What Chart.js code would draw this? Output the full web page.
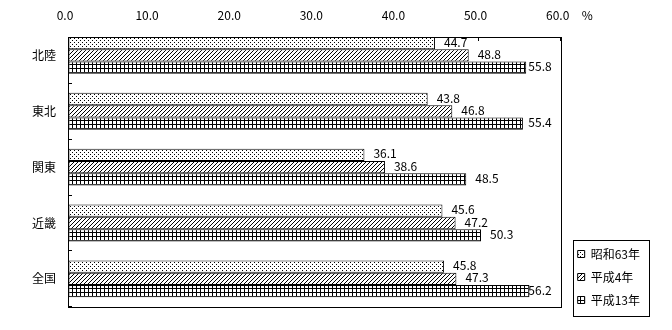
<!DOCTYPE html>
<html>
<head>
<meta charset="utf-8">
<script src="https://cdn.jsdelivr.net/npm/chart.js@4/dist/chart.umd.min.js"></script>
<style>
  html, body { margin: 0; padding: 0; background: #fff; }
  #wrap { width: 672px; height: 330px; }
</style>
</head>
<body>
<div id="wrap"><canvas id="chart" width="672" height="330"></canvas></div>
<script>
// Regions (top to bottom) and the three survey years
const regions = ['北陸', '東北', '関東', '近畿', '全国'];
const seriesNames = ['昭和63年', '平成4年', '平成13年'];
const valuesS63 = [44.7, 43.8, 36.1, 45.6, 45.8];
const valuesH4 = [48.8, 46.8, 38.6, 47.2, 47.3];
const valuesH13 = [55.8, 55.4, 48.5, 50.3, 56.2];
const xTicks = [0, 10, 20, 30, 40, 50, 60];
const unitLabel = '%';

const FONT = '"Noto Sans CJK JP", "Noto Sans", sans-serif';

// Monochrome fill patterns: dots, diagonal hatching, square grid
function makePattern(kind) {
  const c = document.createElement('canvas');
  c.width = 4; c.height = 4;
  const g = c.getContext('2d');
  g.fillStyle = '#fff';
  g.fillRect(0, 0, 4, 4);
  g.fillStyle = '#000';
  if (kind === 'dots') {
    g.fillRect(0, 0, 1, 1);
    g.fillRect(2, 2, 1, 1);
  } else if (kind === 'hatch') {
    for (let i = 0; i < 4; i++) g.fillRect(3 - i, i, 1, 1);
  } else {
    g.fillRect(0, 0, 4, 1);
    g.fillRect(0, 0, 1, 4);
  }
  return c.getContext('2d').createPattern(c, 'repeat');
}

const fills = [makePattern('dots'), makePattern('hatch'), makePattern('grid')];
const seriesValues = [valuesS63, valuesH4, valuesH13];

const datasets = seriesValues.map((vals, k) => ({
  label: seriesNames[k],
  data: vals.map((v, i) => ({ x: v, y: i })),
  backgroundColor: fills[k],
  borderColor: '#000',
  borderWidth: 1,
  borderSkipped: false,
  categoryPercentage: 0.66,
  barPercentage: 1,
  xAxisID: 'x',
  yAxisID: 'y'
}));

// Value labels to the right of each bar
const valueLabels = {
  id: 'valueLabels',
  afterDatasetsDraw(chart) {
    const { ctx, chartArea } = chart;
    ctx.save();
    ctx.font = '12px ' + FONT;
    ctx.fillStyle = '#000';
    ctx.textBaseline = 'middle';
    ctx.textAlign = 'left';
    chart.data.datasets.forEach((ds, di) => {
      chart.getDatasetMeta(di).data.forEach((bar, i) => {
        const txt = ds.data[i].x.toFixed(1);
        const w = ctx.measureText(txt).width;
        const x = Math.min(bar.x + 9, chartArea.right - 9 - w);
        ctx.fillText(txt, x, bar.y - 1);
      });
    });
    ctx.restore();
  }
};

// Plot frame, unit mark and legend border
const decorations = {
  id: 'decorations',
  afterDraw(chart) {
    const { ctx, chartArea } = chart;
    ctx.save();
    ctx.strokeStyle = '#000';
    ctx.lineWidth = 1;
    const l = Math.round(chartArea.left) + 0.5;
    const t = Math.round(chartArea.top) + 0.5;
    const r = Math.round(chartArea.right) + 0.5;
    const b = Math.round(chartArea.bottom) + 0.5;
    ctx.strokeRect(l, t, r - l, b - t);

    // unit mark after the last value tick
    const xs = chart.scales.x;
    const items = xs.getLabelItems();
    const last = items[items.length - 1];
    ctx.font = '12px ' + FONT;
    ctx.fillStyle = '#000';
    ctx.textBaseline = 'middle';
    ctx.textAlign = 'left';
    ctx.fillText(unitLabel, xs.getPixelForValue(xTicks[xTicks.length - 1]) + 21,
      last.options.translation[1] + last.textOffset);

    // box around legend entries
    const hb = chart.legend.legendHitBoxes;
    if (hb && hb.length) {
      const left = Math.min(...hb.map(h => h.left)) - 5;
      const top = Math.min(...hb.map(h => h.top)) - 8;
      const right = Math.max(...hb.map(h => h.left + h.width)) + 9;
      const bottom = Math.max(...hb.map(h => h.top + h.height)) + 10;
      ctx.strokeRect(Math.round(left) + 0.5, Math.round(top) + 0.5,
        Math.round(right - left), Math.round(bottom - top));
    }
    ctx.restore();
  }
};

new Chart(document.getElementById('chart'), {
  type: 'bar',
  data: { datasets },
  plugins: [valueLabels, decorations],
  options: {
    indexAxis: 'y',
    responsive: false,
    animation: false,
    devicePixelRatio: 1,
    layout: { padding: { left: 32, top: 8, right: 22, bottom: 13 } },
    scales: {
      x: {
        type: 'linear',
        position: 'top',
        min: 0,
        max: 60,
        afterBuildTicks: s => { s.ticks = xTicks.map(v => ({ value: v })); },
        afterFit: s => { s.height = 29; },
        ticks: {
          callback: v => Number(v).toFixed(1),
          padding: 18,
          labelOffset: -3,
          color: '#000',
          font: { family: FONT, size: 12, lineHeight: 1.25 }
        },
        grid: { drawOnChartArea: false, tickLength: -4, color: '#000' },
        border: { color: '#000' }
      },
      y: {
        type: 'linear',
        position: 'left',
        reverse: true,
        offset: false,
        min: -0.33,
        max: 4.5,
        afterBuildTicks: s => { s.ticks = regions.map((_, i) => ({ value: i })); },
        afterFit: s => { s.width = 36; },
        ticks: {
          callback: v => regions[v],
          padding: 16,
          color: '#000',
          font: { family: FONT, size: 12 }
        },
        grid: { offset: true, drawOnChartArea: false, tickLength: -4, color: '#000' },
        border: { color: '#000' }
      },
      gap: {
        type: 'linear',
        axis: 'y',
        position: 'right',
        display: true,
        grid: { display: false, drawTicks: false },
        ticks: { display: false },
        border: { display: false },
        afterFit: s => { s.width = 6; }
      }
    },
    plugins: {
      legend: {
        position: 'right',
        align: 'end',
        labels: {
          boxWidth: 7,
          boxHeight: 7,
          padding: 11,
          color: '#000',
          font: { family: FONT, size: 12 }
        }
      },
      tooltip: { enabled: false }
    }
  }
});
</script>
</body>
</html>
